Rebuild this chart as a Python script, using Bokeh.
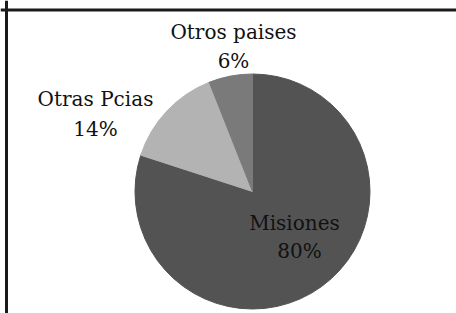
import math
from bokeh.plotting import figure
from bokeh.models import Range1d, ColumnDataSource, Span
from bokeh.core.properties import value
from bokeh.embed import file_html
from bokeh.resources import INLINE

# Data
categories = ["Misiones", "Otras Pcias", "Otros paises"]
shares = [80, 14, 6]
label_texts = ["80%", "14%", "6%"]
colors = ["#535353", "#b3b3b3", "#7a7a7a"]

W, H = 456, 313
p = figure(width=W, height=H, output_backend="svg", toolbar_location=None,
           x_range=Range1d(0, W), y_range=Range1d(0, H), min_border=0)
p.axis.visible = False
p.grid.visible = False
p.outline_line_color = None
p.background_fill_color = "white"
p.border_fill_color = "white"

# wedge angles: clockwise from 12 o'clock
total = sum(shares)
starts, ends = [], []
cum = 0.0
for s in shares:
    a0 = math.pi / 2 - 2 * math.pi * (cum + s) / total
    a1 = math.pi / 2 - 2 * math.pi * cum / total
    starts.append(a0)
    ends.append(a1)
    cum += s

def fy(page_y):
    return H - page_y

cx, cy, r = 252, fy(191), 117.5
src = ColumnDataSource(dict(cat=categories, start=starts, end=ends, color=colors))
p.wedge(x=cx, y=cy, radius=r, start_angle="start", end_angle="end",
        direction="anticlock", fill_color="color", line_color="color", source=src)

anchors = {
    "Misiones": [(294, 222), (299, 250)],
    "Otras Pcias": [(95, 98), (95, 128)],
    "Otros paises": [(233, 31), (233, 60)],
}
for cat, pct in zip(categories, label_texts):
    (x1, y1), (x2, y2) = anchors[cat]
    for t, (xx, yy) in [(cat, (x1, y1)), (pct, (x2, y2))]:
        p.text(x=[xx], y=[fy(yy)], text=[t], text_font=value("DejaVu Serif"),
               text_font_size="20px", text_align="center", text_baseline="alphabetic",
               text_color="#111111")

# frame lines (top and left)
p.add_layout(Span(location=fy(9.5), dimension="width", line_color="#1a1a1a", line_width=3))
p.add_layout(Span(location=6, dimension="height", line_color="#1a1a1a", line_width=3))

open("out.html", "w").write(file_html(p, INLINE))
